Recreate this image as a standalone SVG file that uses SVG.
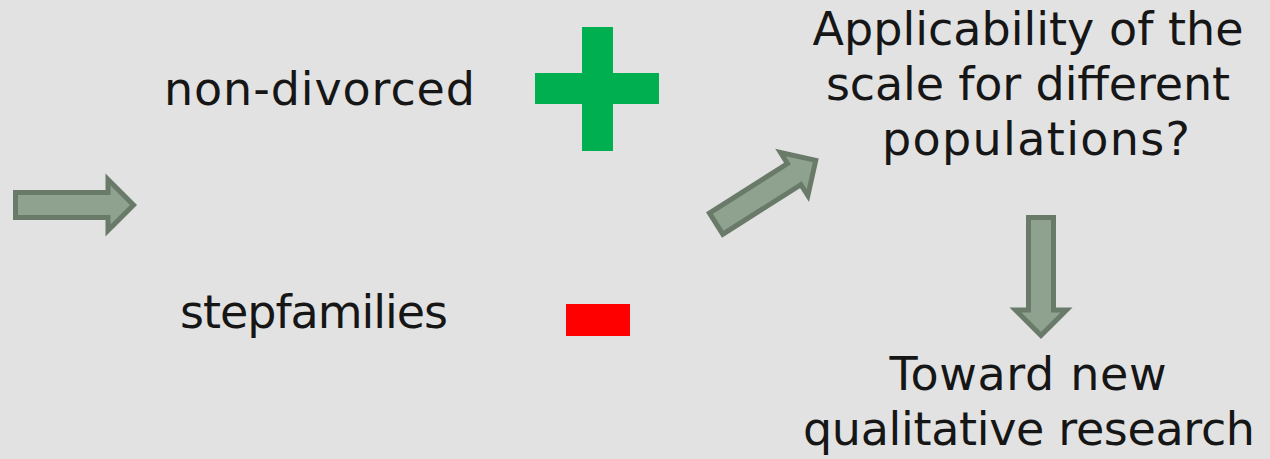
<svg xmlns="http://www.w3.org/2000/svg" width="1270" height="459" viewBox="0 0 1270 459">
<style>
.t{font-family:"DejaVu Sans","Liberation Sans",sans-serif;font-size:46px;fill:#161616}
.c{text-anchor:middle}
.arr{fill:#8fa18f;stroke:#697a69;stroke-width:5;stroke-linejoin:miter}
</style>
<defs>
<polygon id="arrow" class="arr" points="2.5,-12.5 95,-12.5 95,-25.5 120.5,0 95,25.5 95,12.5 2.5,12.5"/>
</defs>
<rect width="1270" height="459" fill="#e2e2e2"/>
<g id="label-nondivorced"><text class="t" x="164" y="105" textLength="311">non-divorced</text></g>
<g id="label-stepfamilies"><text class="t" x="180" y="328" textLength="268">stepfamilies</text></g>
<g id="plus"><rect x="582" y="27" width="31" height="124" fill="#00b050"/><rect x="535" y="73" width="124" height="31" fill="#00b050"/></g>
<g id="minus"><rect x="566" y="304" width="64" height="32" fill="#ff0000"/></g>
<g id="label-applicability">
<text class="t c" x="1028" y="45" textLength="431">Applicability of the</text>
<text class="t c" x="1028" y="100" textLength="404">scale for different</text>
<text class="t c" x="1036" y="155" textLength="308">populations?</text>
</g>
<g id="label-toward">
<text class="t c" x="1028" y="390" textLength="277">Toward new</text>
<text class="t c" x="1029" y="445" textLength="452">qualitative research</text>
</g>
<g id="connectors">
<use href="#arrow" transform="translate(13,205)"/>
<use href="#arrow" transform="translate(714,225) rotate(-32.4)"/>
<use href="#arrow" transform="translate(1041,215) rotate(90)"/>
</g>
</svg>
